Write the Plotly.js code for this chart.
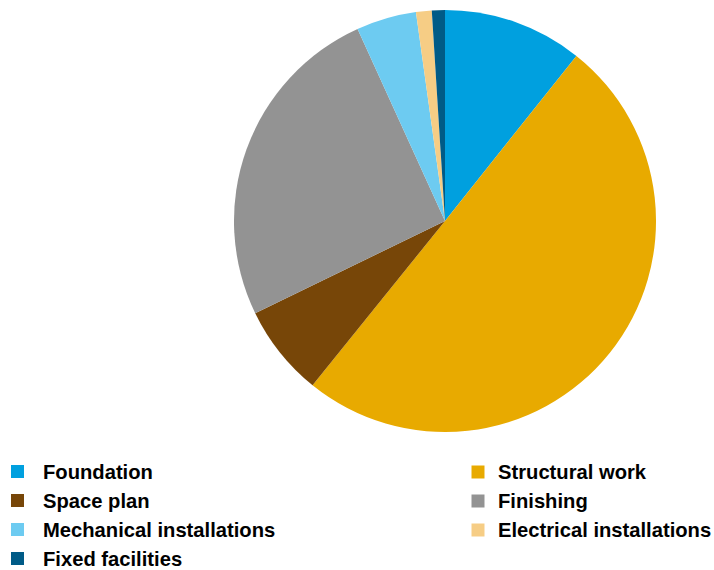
<!DOCTYPE html>
<html>
<head>
<meta charset="utf-8">
<script src="https://cdn.plot.ly/plotly-3.0.1.min.js"></script>
<style>html,body{margin:0;padding:0;background:#fff;overflow:hidden;}#chart{width:714px;height:570px;}</style>
</head>
<body>
<div id="chart"></div>
<script>
const categories = ["Foundation", "Structural work", "Space plan", "Finishing", "Mechanical installations", "Electrical installations", "Fixed facilities"];
const shares = [10.7, 50.1, 7.0, 25.4, 4.6, 1.2, 1.0];
const colors = ["#00A0DF", "#E8AA00", "#774608", "#939393", "#6DCBF1", "#F6CD85", "#005B87"];

const W = 714, H = 570;

const trace = {
  type: "pie",
  labels: categories,
  values: shares,
  sort: false,
  direction: "clockwise",
  rotation: 0,
  textinfo: "none",
  hoverinfo: "label+percent",
  showlegend: false,
  marker: {colors: colors, line: {width: 0}},
  domain: {x: [0.3277, 0.9188], y: [0.2421, 0.9825]}
};

// Two-column legend laid out row by row (left column, right column)
const colMarkerX = [17.5, 478];
const colTextX = [42, 497];
const rowY0 = 471.5, rowStep = 29, sq = 13;
const shapes = [], annotations = [];
categories.forEach((name, i) => {
  const col = i % 2, row = Math.floor(i / 2);
  const cy = rowY0 + row * rowStep + (col === 1 ? 0.5 : 0);
  const cx = colMarkerX[col];
  shapes.push({
    type: "rect", xref: "paper", yref: "paper",
    x0: (cx - sq / 2) / W, x1: (cx + sq / 2) / W,
    y0: 1 - (cy + sq / 2) / H, y1: 1 - (cy - sq / 2) / H,
    fillcolor: colors[i], line: {width: 0}
  });
  annotations.push({
    xref: "paper", yref: "paper",
    x: colTextX[col] / W, y: 1 - cy / H,
    xanchor: "left", yanchor: "middle",
    text: name, showarrow: false, borderpad: 0,
    font: {family: "Liberation Sans, Arial, sans-serif", size: 20.2, color: "#000", weight: "bold"}
  });
});

const layout = {
  width: W,
  height: H,
  margin: {l: 0, r: 0, t: 0, b: 0, autoexpand: false},
  paper_bgcolor: "#fff",
  showlegend: false,
  shapes: shapes,
  annotations: annotations
};

Plotly.newPlot("chart", [trace], layout, {displayModeBar: false, staticPlot: true});
</script>
</body>
</html>
